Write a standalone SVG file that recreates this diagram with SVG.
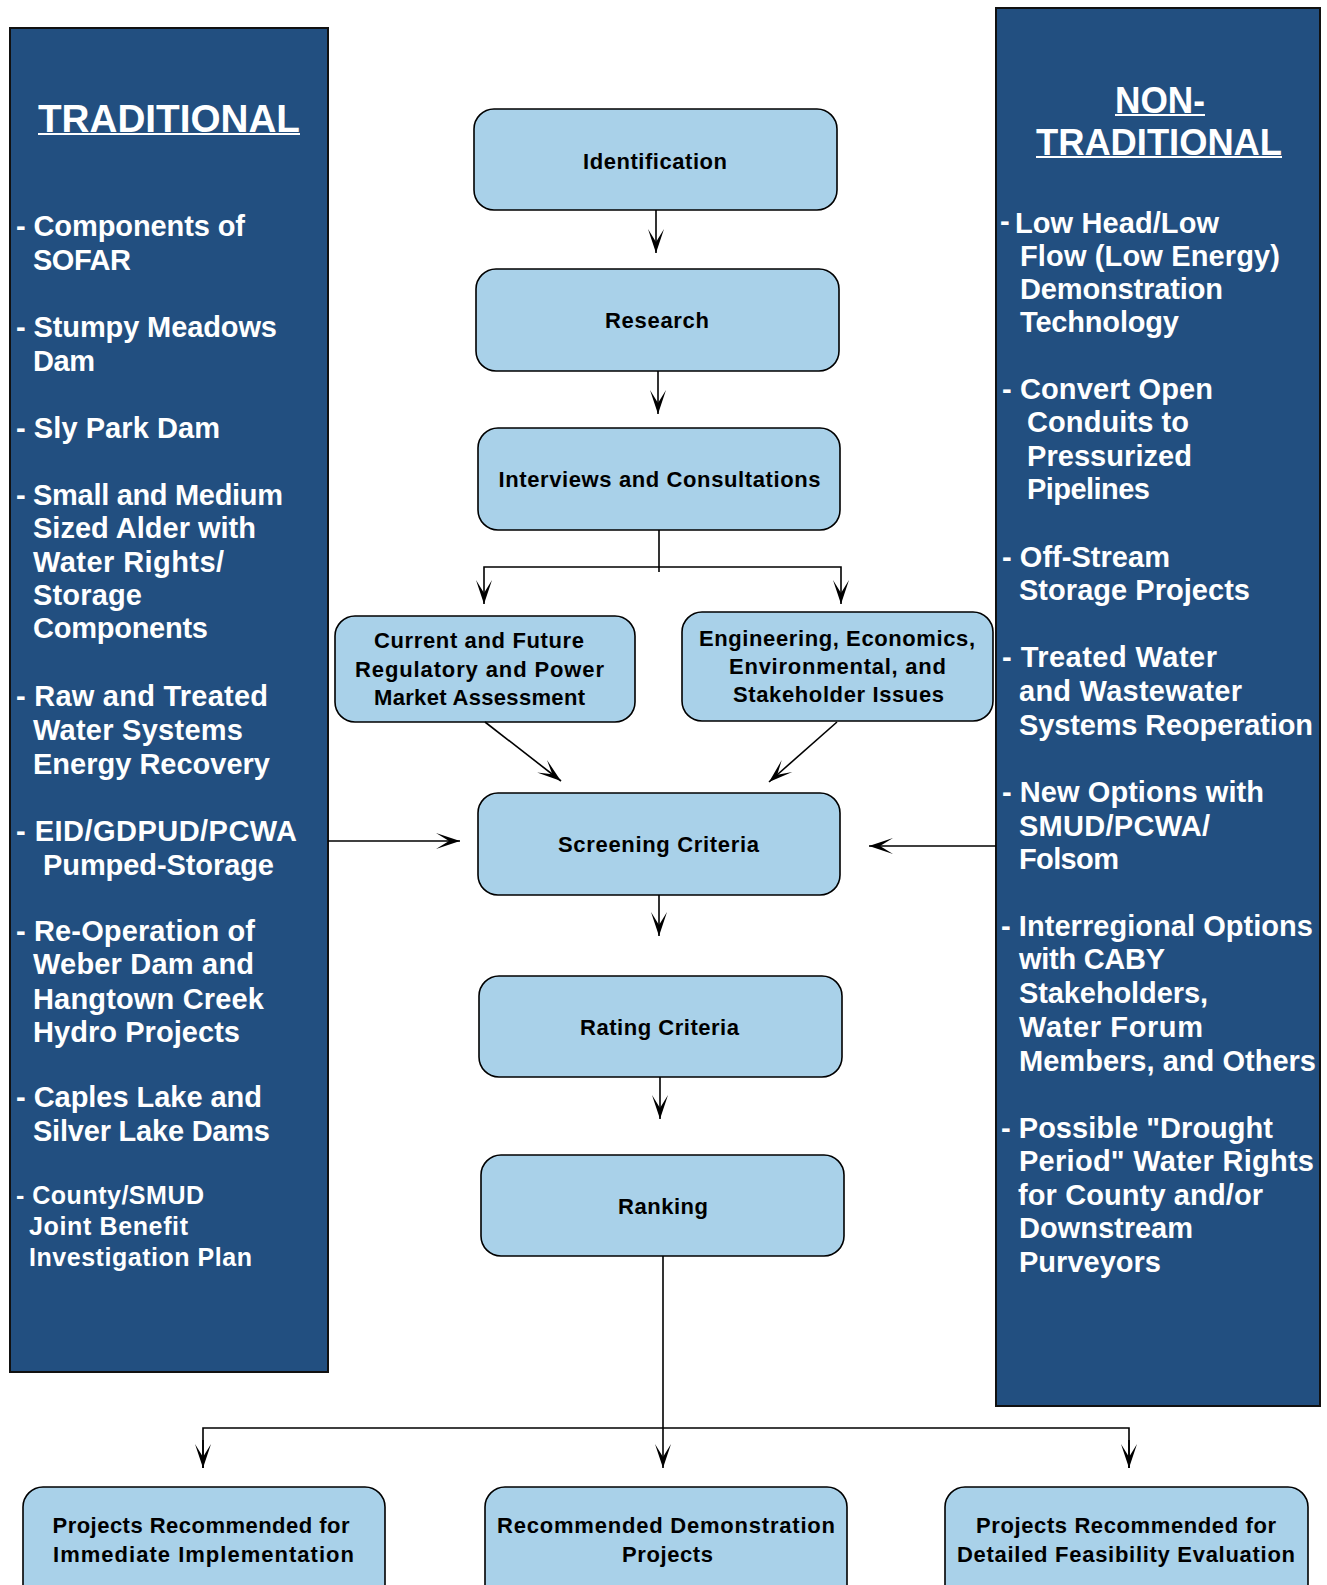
<svg xmlns="http://www.w3.org/2000/svg" width="1327" height="1585" viewBox="0 0 1327 1585">
<defs>
<style>
.panel{fill:#224F80;stroke:#111;stroke-width:2}
.box{fill:#A9D1E9;stroke:#000;stroke-width:1.6}
.bt{font-family:"Liberation Sans",Arial,sans-serif;font-weight:bold;font-size:22px;fill:#000;text-anchor:middle}
.pt{font-family:"Liberation Sans",Arial,sans-serif;font-weight:bold;font-size:29px;fill:#fff}
.ps{font-size:25px}
.tt{font-family:"Liberation Sans",Arial,sans-serif;font-weight:bold;fill:#fff}
.ul{fill:#fff}
.conn{fill:none;stroke:#000;stroke-width:1.6}
</style>
<marker id="ah" viewBox="-26 -12 28 24" refX="0" refY="0" markerWidth="28" markerHeight="24" markerUnits="userSpaceOnUse" orient="auto">
<path d="M0,0 L-24,-8 L-11,0 L-24,8 Z" fill="#000"/>
</marker>
</defs>
<rect x="0" y="0" width="1327" height="1585" fill="#fff"/>

<g id="traditional">
<rect class="panel" x="10" y="28" width="318" height="1344"/>
<text class="tt" x="38" y="132" font-size="38.5" textLength="262" lengthAdjust="spacingAndGlyphs">TRADITIONAL</text>
<rect class="ul" x="38" y="133" width="262" height="2"/>
<text class="pt" x="16" y="236" textLength="229" lengthAdjust="spacing">- Components of</text>
<text class="pt" x="33" y="270" textLength="98" lengthAdjust="spacing">SOFAR</text>
<text class="pt" x="16" y="337" textLength="261" lengthAdjust="spacing">- Stumpy Meadows</text>
<text class="pt" x="33" y="371" textLength="62" lengthAdjust="spacing">Dam</text>
<text class="pt" x="16" y="438" textLength="204" lengthAdjust="spacing">- Sly Park Dam</text>
<text class="pt" x="16" y="505" textLength="267" lengthAdjust="spacing">- Small and Medium</text>
<text class="pt" x="33" y="538" textLength="223" lengthAdjust="spacing">Sized Alder with</text>
<text class="pt" x="33" y="572" textLength="191" lengthAdjust="spacing">Water Rights/</text>
<text class="pt" x="33" y="605" textLength="109" lengthAdjust="spacing">Storage</text>
<text class="pt" x="33" y="638" textLength="175" lengthAdjust="spacing">Components</text>
<text class="pt" x="16" y="706" textLength="252" lengthAdjust="spacing">- Raw and Treated</text>
<text class="pt" x="33" y="740" textLength="210" lengthAdjust="spacing">Water Systems</text>
<text class="pt" x="33" y="774" textLength="237" lengthAdjust="spacing">Energy Recovery</text>
<text class="pt" x="16" y="841" textLength="281" lengthAdjust="spacing">- EID/GDPUD/PCWA</text>
<text class="pt" x="43" y="875" textLength="231" lengthAdjust="spacing">Pumped-Storage</text>
<text class="pt" x="16" y="941" textLength="239" lengthAdjust="spacing">- Re-Operation of</text>
<text class="pt" x="33" y="974" textLength="221" lengthAdjust="spacing">Weber Dam and</text>
<text class="pt" x="33" y="1009" textLength="231" lengthAdjust="spacing">Hangtown Creek</text>
<text class="pt" x="33" y="1042" textLength="207" lengthAdjust="spacing">Hydro Projects</text>
<text class="pt" x="16" y="1107" textLength="246" lengthAdjust="spacing">- Caples Lake and</text>
<text class="pt" x="33" y="1141" textLength="237" lengthAdjust="spacing">Silver Lake Dams</text>
<text class="pt ps" x="16" y="1204" textLength="188" lengthAdjust="spacing">- County/SMUD</text>
<text class="pt ps" x="29" y="1235" textLength="159" lengthAdjust="spacing">Joint Benefit</text>
<text class="pt ps" x="29" y="1266" textLength="223" lengthAdjust="spacing">Investigation Plan</text>
</g>

<g id="non-traditional">
<rect class="panel" x="996" y="8" width="324" height="1398"/>
<text class="tt" x="1115" y="113" font-size="36" textLength="90" lengthAdjust="spacingAndGlyphs">NON-</text>
<rect class="ul" x="1115" y="114" width="90" height="2"/>
<text class="tt" x="1036" y="155" font-size="36" textLength="246" lengthAdjust="spacingAndGlyphs">TRADITIONAL</text>
<rect class="ul" x="1036" y="156" width="246" height="2"/>
<text class="pt" x="1000" y="231" font-size="6">-</text>
<text class="pt" x="1015" y="233" textLength="204" lengthAdjust="spacing">Low Head/Low</text>
<text class="pt" x="1020" y="266" textLength="260" lengthAdjust="spacing">Flow (Low Energy)</text>
<text class="pt" x="1020" y="299" textLength="203" lengthAdjust="spacing">Demonstration</text>
<text class="pt" x="1020" y="332" textLength="159" lengthAdjust="spacing">Technology</text>
<text class="pt" x="1002" y="399" textLength="211" lengthAdjust="spacing">- Convert Open</text>
<text class="pt" x="1027" y="432" textLength="162" lengthAdjust="spacing">Conduits to</text>
<text class="pt" x="1027" y="466" textLength="165" lengthAdjust="spacing">Pressurized</text>
<text class="pt" x="1027" y="499" textLength="123" lengthAdjust="spacing">Pipelines</text>
<text class="pt" x="1002" y="567" textLength="168" lengthAdjust="spacing">- Off-Stream</text>
<text class="pt" x="1019" y="600" textLength="231" lengthAdjust="spacing">Storage Projects</text>
<text class="pt" x="1002" y="667" textLength="215" lengthAdjust="spacing">- Treated Water</text>
<text class="pt" x="1019" y="701" textLength="223" lengthAdjust="spacing">and Wastewater</text>
<text class="pt" x="1019" y="735" textLength="294" lengthAdjust="spacing">Systems Reoperation</text>
<text class="pt" x="1002" y="802" textLength="262" lengthAdjust="spacing">- New Options with</text>
<text class="pt" x="1019" y="836" textLength="191" lengthAdjust="spacing">SMUD/PCWA/</text>
<text class="pt" x="1019" y="869" textLength="100" lengthAdjust="spacing">Folsom</text>
<text class="pt" x="1001" y="936" textLength="312" lengthAdjust="spacing">- Interregional Options</text>
<text class="pt" x="1019" y="969" textLength="146" lengthAdjust="spacing">with CABY</text>
<text class="pt" x="1019" y="1003" textLength="189" lengthAdjust="spacing">Stakeholders,</text>
<text class="pt" x="1019" y="1037" textLength="184" lengthAdjust="spacing">Water Forum</text>
<text class="pt" x="1019" y="1071" textLength="297" lengthAdjust="spacing">Members, and Others</text>
<text class="pt" x="1001" y="1138" textLength="272" lengthAdjust="spacing">- Possible "Drought</text>
<text class="pt" x="1019" y="1171" textLength="295" lengthAdjust="spacing">Period" Water Rights</text>
<text class="pt" x="1018" y="1205" textLength="245" lengthAdjust="spacing">for County and/or</text>
<text class="pt" x="1019" y="1238" textLength="174" lengthAdjust="spacing">Downstream</text>
<text class="pt" x="1019" y="1272" textLength="142" lengthAdjust="spacing">Purveyors</text>
</g>

<g id="identification">
<rect class="box" x="474" y="109" width="363" height="101" rx="20"/>
<text class="bt" x="655" y="169" textLength="144" lengthAdjust="spacing">Identification</text>
</g>
<g id="research">
<rect class="box" x="476" y="269" width="363" height="102" rx="20"/>
<text class="bt" x="657" y="328" textLength="104" lengthAdjust="spacing">Research</text>
</g>
<g id="interviews">
<rect class="box" x="478" y="428" width="362" height="102" rx="20"/>
<text class="bt" x="659.5" y="487" textLength="322" lengthAdjust="spacing">Interviews and Consultations</text>
</g>
<g id="current-future">
<rect class="box" x="335" y="616" width="300" height="106" rx="20"/>
<text class="bt" x="479" y="648" textLength="210" lengthAdjust="spacing">Current and Future</text>
<text class="bt" x="479.5" y="677" textLength="249" lengthAdjust="spacing">Regulatory and Power</text>
<text class="bt" x="479.5" y="705" textLength="211" lengthAdjust="spacing">Market Assessment</text>
</g>
<g id="engineering">
<rect class="box" x="682" y="612" width="311" height="109" rx="20"/>
<text class="bt" x="837" y="646" textLength="276" lengthAdjust="spacing">Engineering, Economics,</text>
<text class="bt" x="837.5" y="674" textLength="217" lengthAdjust="spacing">Environmental, and</text>
<text class="bt" x="838.5" y="702" textLength="211" lengthAdjust="spacing">Stakeholder Issues</text>
</g>
<g id="screening">
<rect class="box" x="478" y="793" width="362" height="102" rx="20"/>
<text class="bt" x="658.5" y="852" textLength="201" lengthAdjust="spacing">Screening Criteria</text>
</g>
<g id="rating">
<rect class="box" x="479" y="976" width="363" height="101" rx="20"/>
<text class="bt" x="659.5" y="1035" textLength="159" lengthAdjust="spacing">Rating Criteria</text>
</g>
<g id="ranking">
<rect class="box" x="481" y="1155" width="363" height="101" rx="20"/>
<text class="bt" x="663" y="1214" textLength="90" lengthAdjust="spacing">Ranking</text>
</g>
<g id="immediate">
<rect class="box" x="23" y="1487" width="362" height="140" rx="20"/>
<text class="bt" x="201" y="1533" textLength="297" lengthAdjust="spacing">Projects Recommended for</text>
<text class="bt" x="203.5" y="1562" textLength="301" lengthAdjust="spacing">Immediate Implementation</text>
</g>
<g id="demonstration">
<rect class="box" x="485" y="1487" width="362" height="140" rx="20"/>
<text class="bt" x="666" y="1533" textLength="338" lengthAdjust="spacing">Recommended Demonstration</text>
<text class="bt" x="667.5" y="1562" textLength="91" lengthAdjust="spacing">Projects</text>
</g>
<g id="feasibility">
<rect class="box" x="945" y="1487" width="363" height="140" rx="20"/>
<text class="bt" x="1126" y="1533" textLength="300" lengthAdjust="spacing">Projects Recommended for</text>
<text class="bt" x="1126" y="1562" textLength="338" lengthAdjust="spacing">Detailed Feasibility Evaluation</text>
</g>

<g id="connectors">
<path class="conn" d="M656,210 V253" marker-end="url(#ah)"/>
<path class="conn" d="M658,371 V414" marker-end="url(#ah)"/>
<path class="conn" d="M659,530 V572"/>
<path class="conn" d="M659,567 H484 V604" marker-end="url(#ah)"/>
<path class="conn" d="M659,567 H841 V604" marker-end="url(#ah)"/>
<path class="conn" d="M485,722 L561,781" marker-end="url(#ah)"/>
<path class="conn" d="M837,722 L769,782" marker-end="url(#ah)"/>
<path class="conn" d="M328,841 H460" marker-end="url(#ah)"/>
<path class="conn" d="M996,846 H869" marker-end="url(#ah)"/>
<path class="conn" d="M659,895 V936" marker-end="url(#ah)"/>
<path class="conn" d="M660,1077 V1119" marker-end="url(#ah)"/>
<path class="conn" d="M663,1256 V1468" marker-end="url(#ah)"/>
<path class="conn" d="M203,1468 V1428 H1129 V1468" stroke-width="2"/>
<path class="conn" d="M203,1440 V1468" marker-end="url(#ah)"/>
<path class="conn" d="M1129,1440 V1468" marker-end="url(#ah)"/>
</g>
</svg>
